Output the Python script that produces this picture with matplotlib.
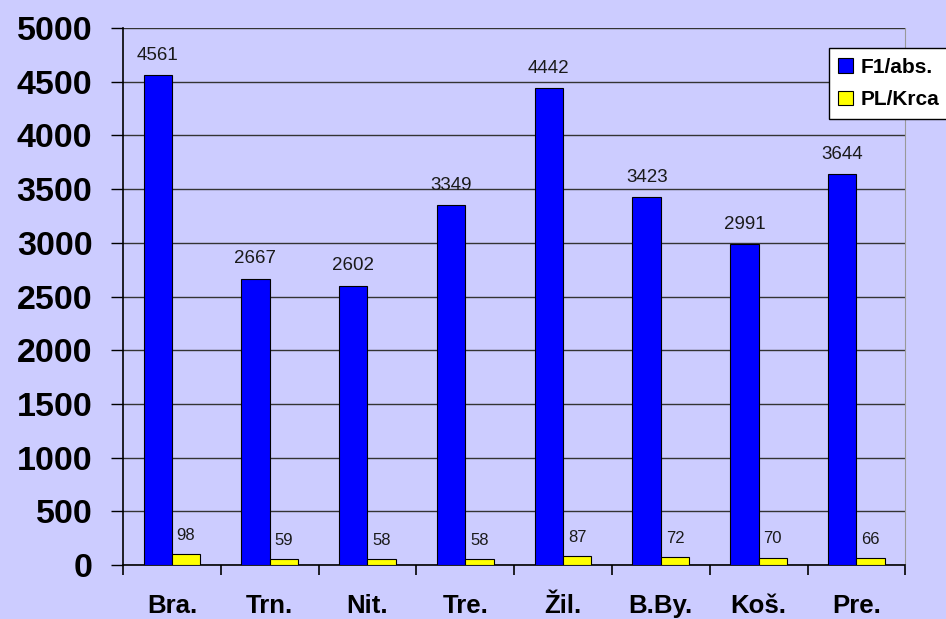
import numpy as np
import matplotlib.pyplot as plt
from matplotlib.ticker import MultipleLocator, FixedLocator

# data
regions = ['Bra.', 'Trn.', 'Nit.', 'Tre.', 'Žil.', 'B.By.', 'Koš.', 'Pre.']
f1_abs = [4561, 2667, 2602, 3349, 4442, 3423, 2991, 3644]
pl_krca = [98, 59, 58, 58, 87, 72, 70, 66]

bg = '#ccccff'
plt.rcParams['font.family'] = ['Liberation Sans', 'DejaVu Sans']

fig = plt.figure(figsize=(9.46, 6.19), dpi=100, facecolor=bg)
ax = fig.add_axes([0.130, 0.0872, 0.827, 0.8676], facecolor=bg)

x = np.arange(len(regions))
w = 0.29
ax.bar(x - w/2, f1_abs, w, color='#0000ff', edgecolor='black', linewidth=0.8,
       label='F1/abs.', zorder=3)
ax.bar(x + w/2, pl_krca, w, color='#ffff00', edgecolor='black', linewidth=0.8,
       label='PL/Krca', zorder=3)

for xi, v in zip(x, f1_abs):
    ax.annotate(str(v), (xi - w/2, v), xytext=(0, 8), textcoords='offset points',
                ha='center', va='bottom', fontsize=13.5, color='#1a1a1a')
for xi, v in zip(x, pl_krca):
    ax.annotate(str(v), (xi + w/2, v), xytext=(0, 8), textcoords='offset points',
                ha='center', va='bottom', fontsize=12, color='#1a1a1a')

ax.set_ylim(0, 5000)
ax.set_xlim(-0.5, len(regions) - 0.5)
ax.yaxis.set_major_locator(MultipleLocator(500))
ax.grid(axis='y', color='#333333', linewidth=1, zorder=1)
ax.tick_params(axis='y', length=9, width=1, labelsize=24.5, pad=13)
for lbl in ax.get_yticklabels():
    lbl.set_fontweight('bold')

ax.set_xticks(x)
ax.set_xticklabels(regions, fontsize=18.5, fontweight='bold')
ax.tick_params(axis='x', which='major', length=0, pad=21)
ax.xaxis.set_minor_locator(FixedLocator(np.arange(-0.5, len(regions), 1.0)))
ax.tick_params(axis='x', which='minor', length=7, width=1.2)

ax.spines['top'].set_visible(False)
ax.spines['right'].set_color('#999999')
ax.spines['left'].set_linewidth(1.2)
ax.spines['bottom'].set_linewidth(1.2)

leg = ax.legend(loc='upper left', bbox_to_anchor=(0.876, 0.922), bbox_transform=fig.transFigure,
                frameon=True, fancybox=False,
                prop={'size': 15, 'weight': 'bold'}, handlelength=0.7, handleheight=0.7,
                handletextpad=0.4, borderpad=0.45, labelspacing=0.65, borderaxespad=0)
leg.get_frame().set_edgecolor('black')
leg.get_frame().set_facecolor('white')
leg.get_frame().set_alpha(1)
leg.set_zorder(5)

plt.savefig('out.png', dpi=100, facecolor=bg)
